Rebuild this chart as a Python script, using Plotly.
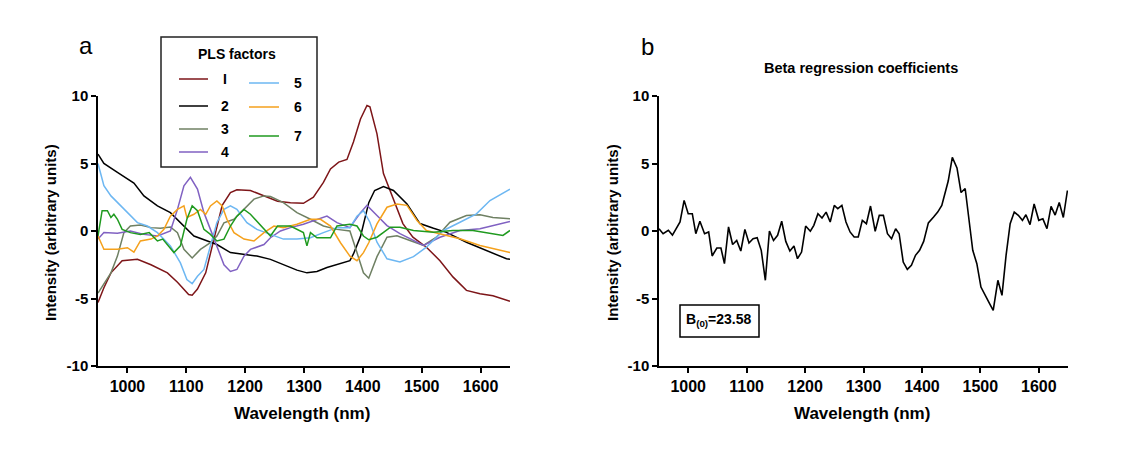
import plotly.graph_objects as go

# page body has an 8px margin, so the figure is drawn 8px in from the top-left corner
OFF = 8
W, H = 1131 - OFF, 459 - OFF

# ---------------- data: PLS factors (panel a) ----------------
wl_f1 = [950, 960, 972, 991, 1017, 1040, 1068, 1085, 1104, 1110, 1119, 1133, 1147, 1161, 1175, 1186, 1209, 1232, 1255, 1277, 1299, 1316, 1333, 1345, 1359, 1373, 1384, 1396, 1407, 1412, 1424, 1435, 1444, 1455, 1468, 1485, 1508, 1531, 1553, 1576, 1599, 1621, 1644, 1650]
f1 = [-5.3, -4.2, -3.1, -2.2, -2.1, -2.5, -3.1, -3.8, -4.7, -4.75, -4.3, -3.1, -0.6, 1.9, 2.85, 3.05, 3.0, 2.6, 2.2, 2.1, 2.05, 2.5, 3.6, 4.6, 5.1, 5.3, 6.6, 8.3, 9.3, 9.2, 7.2, 4.25, 3.25, 2.0, 0.55, -0.46, -1.2, -2.2, -3.4, -4.4, -4.65, -4.8, -5.15, -5.2]

wl_f2 = [950, 960, 983, 1005, 1011, 1028, 1051, 1073, 1096, 1113, 1136, 1152, 1175, 1198, 1220, 1243, 1265, 1288, 1305, 1322, 1339, 1356, 1378, 1384, 1396, 1410, 1420, 1435, 1452, 1475, 1497, 1520, 1542, 1576, 1610, 1644, 1650]
f2 = [5.7, 5.0, 4.35, 3.7, 3.55, 2.6, 1.86, 1.36, 0.37, -0.37, -0.74, -1.0, -1.6, -1.74, -1.86, -2.1, -2.5, -2.9, -3.1, -3.0, -2.7, -2.5, -2.2, -1.7, -0.4, 2.1, 3.0, 3.3, 3.0, 2.0, 0.55, 0.2, -0.1, -0.83, -1.45, -2.06, -2.1]

wl_f3 = [950, 972, 983, 994, 1005, 1022, 1040, 1056, 1073, 1085, 1096, 1110, 1124, 1141, 1152, 1164, 1181, 1198, 1215, 1232, 1243, 1265, 1288, 1311, 1333, 1356, 1378, 1390, 1401, 1410, 1424, 1441, 1458, 1480, 1503, 1525, 1548, 1576, 1599, 1621, 1650]
f3 = [-4.6, -3.1, -1.86, -0.12, 0.37, 0.45, 0.25, 0.2, 0.3, -0.12, -1.36, -2.0, -1.36, -0.87, -0.37, 0.6, 0.87, 1.6, 2.36, 2.6, 2.55, 2.1, 1.36, 0.87, 0.37, 0.12, 0.0, -1.6, -3.1, -3.5, -1.9, -0.46, -0.35, -0.7, -1.07, -0.46, 0.65, 1.15, 1.2, 1.0, 0.9]

wl_f4 = [950, 960, 983, 1005, 1028, 1051, 1073, 1085, 1096, 1107, 1119, 1130, 1141, 1152, 1164, 1175, 1186, 1198, 1209, 1232, 1243, 1260, 1277, 1299, 1322, 1339, 1356, 1378, 1396, 1407, 1424, 1441, 1463, 1486, 1503, 1531, 1565, 1599, 1650]
f4 = [-0.6, -0.12, -0.17, 0.0, -0.25, -0.37, 0.0, 1.6, 3.35, 3.97, 3.1, 1.36, 0.12, -1.1, -2.5, -3.0, -2.85, -1.86, -1.36, -1.0, -0.5, 0.0, 0.25, 0.5, 0.87, 1.1, 0.62, 0.25, 1.36, 1.9, 1.15, 0.4, -0.2, -0.7, -1.07, -0.46, 0.04, 0.16, 0.7]

wl_f5 = [950, 960, 972, 994, 1017, 1034, 1051, 1073, 1090, 1101, 1110, 1119, 1130, 1141, 1152, 1164, 1175, 1186, 1203, 1220, 1243, 1265, 1288, 1311, 1333, 1356, 1378, 1390, 1401, 1412, 1424, 1441, 1463, 1486, 1508, 1537, 1565, 1593, 1616, 1650]
f5 = [5.0, 3.35, 2.6, 1.6, 0.62, 0.37, -0.12, -1.1, -2.36, -3.6, -3.9, -3.35, -2.85, -1.1, 0.62, 1.6, 1.86, 1.6, 0.62, 0.12, -0.25, -0.6, -0.6, -0.5, -0.12, 0.25, 0.25, 1.1, 1.5, 0.65, -0.83, -2.06, -2.3, -1.9, -1.2, 0.04, 0.65, 1.27, 2.26, 3.1]

wl_f6 = [950, 960, 983, 1000, 1011, 1022, 1040, 1051, 1062, 1073, 1085, 1096, 1101, 1113, 1124, 1133, 1141, 1152, 1161, 1169, 1181, 1198, 1215, 1232, 1249, 1265, 1288, 1311, 1328, 1345, 1362, 1378, 1390, 1401, 1410, 1424, 1441, 1458, 1475, 1492, 1508, 1531, 1565, 1599, 1650]
f6 = [-0.37, -1.36, -1.36, -1.24, -1.56, -0.74, -0.6, -0.37, 0.12, 1.1, 1.6, 1.86, 1.0, 1.24, 1.6, 1.24, 1.86, 2.23, 1.86, 0.87, -0.12, -0.6, -0.74, -0.12, 0.37, 0.25, 0.5, 0.87, 0.87, 0.37, -0.87, -1.86, -2.2, -1.6, -0.87, 0.53, 1.76, 2.0, 1.9, 0.78, 0.04, -0.2, -0.58, -1.07, -1.6]

wl_f7 = [950, 957, 966, 972, 977, 983, 991, 1005, 1022, 1037, 1051, 1060, 1079, 1090, 1101, 1110, 1119, 1130, 1141, 1152, 1164, 1175, 1186, 1198, 1209, 1220, 1232, 1243, 1255, 1277, 1299, 1305, 1311, 1322, 1345, 1356, 1378, 1390, 1401, 1410, 1424, 1447, 1463, 1486, 1520, 1553, 1587, 1621, 1638, 1650]
f7 = [-0.37, 1.5, 1.5, 1.0, 1.24, 0.87, 0.12, -0.12, -0.25, -0.12, -0.74, -0.6, -1.6, -1.1, 0.87, 1.86, 1.5, 0.12, -0.25, -0.74, -0.6, 0.37, 1.1, 1.6, 1.24, 0.74, 0.12, -0.37, 0.37, 0.37, -0.12, -1.1, -0.12, -0.5, -0.5, 0.37, 0.5, 0.37, -0.37, -0.65, -0.46, 0.28, 0.28, 0.04, -0.1, 0.04, 0.04, -0.2, -0.33, 0.04]

factor_labels = ["I", "2", "3", "4", "5", "6", "7"]
factor_colors = ["#7d1518", "#000000", "#6f8063", "#8061c2", "#6db7f2", "#f5a11c", "#1f9a1f"]

# ---------------- data: beta coefficients (panel b) ----------------
wl_beta = [950, 957, 966, 973, 986, 993, 1000, 1007, 1013, 1020, 1028, 1035, 1041, 1049, 1056, 1062, 1069, 1076, 1083, 1090, 1097, 1104, 1111, 1118, 1125, 1132, 1139, 1146, 1153, 1160, 1167, 1174, 1181, 1187, 1194, 1201, 1209, 1215, 1222, 1229, 1236, 1243, 1250, 1256, 1263, 1270, 1277, 1284, 1291, 1298, 1305, 1312, 1320, 1327, 1334, 1341, 1348, 1355, 1361, 1368, 1375, 1382, 1389, 1396, 1403, 1411, 1420, 1427, 1434, 1445, 1452, 1460, 1467, 1474, 1487, 1494, 1501, 1508, 1516, 1522, 1530, 1537, 1544, 1551, 1558, 1565, 1572, 1578, 1585, 1592, 1600, 1607, 1614, 1621, 1628, 1635, 1642, 1649]
beta = [0.17, -0.2, 0.05, -0.3, 0.67, 2.27, 1.28, 1.28, -0.2, 0.72, -0.2, -0.07, -1.85, -1.26, -1.26, -2.42, 0.3, -1.0, -0.7, -1.48, 0.12, -0.89, -0.57, -0.5, -1.43, -3.65, 0.0, -0.7, -0.32, 0.72, -0.77, -1.48, -1.11, -2.05, -1.56, 0.37, -0.02, 0.42, 1.28, 0.96, 1.4, 0.67, 1.9, 1.65, 1.9, 0.67, -0.07, -0.44, -0.44, 0.79, 0.54, 1.85, -0.02, 1.16, 1.16, -0.2, -0.57, 0.17, -0.2, -2.3, -2.84, -2.54, -1.8, -1.43, -0.77, 0.6, 1.04, 1.4, 1.9, 3.7, 5.45, 4.67, 2.85, 3.15, -1.43, -2.42, -4.15, -4.77, -5.4, -5.88, -3.65, -4.77, -1.8, 0.54, 1.4, 1.16, 0.79, 1.2, 0.47, 2.0, 0.79, 0.9, 0.17, 1.83, 1.18, 2.12, 1.0, 3.0]

x_ticks = [1000, 1100, 1200, 1300, 1400, 1500, 1600]
x_ticktext = ["1000", "1100", "1200", "1300", "1400", "1500", "1600"]
y_ticks = [-10, -5, 0, 5, 10]
y_ticktext = ["-10", "-5", "0", "5", "10"]
x_range = [950, 1650]
y_range = [-10, 10]
b0_text = "B<sub>(0)</sub>=23.58"

# ---------------- figure ----------------
FONT = "Liberation Sans, Arial, sans-serif"

def px(x):
    return (x - OFF) / W

def py(y):
    return 1 - (y - OFF) / H

fig = go.Figure()

series = [(wl_f1, f1), (wl_f2, f2), (wl_f3, f3), (wl_f4, f4), (wl_f5, f5), (wl_f6, f6), (wl_f7, f7)]
for (xs, ys), name, col in zip(series, factor_labels, factor_colors):
    fig.add_trace(go.Scatter(x=xs, y=ys, mode="lines", name=name,
                             line=dict(color=col, width=1.5), xaxis="x", yaxis="y"))

fig.add_trace(go.Scatter(x=wl_beta, y=beta, mode="lines", name="beta",
                         line=dict(color="#000000", width=1.6), xaxis="x2", yaxis="y2"))

axis_common = dict(showline=True, linecolor="#000000", linewidth=1.5, ticks="outside",
                   ticklen=5, tickwidth=1.5, tickcolor="#000000", showgrid=False,
                   zeroline=False, automargin=False)
xfont = dict(family=FONT, size=16, color="#000000", weight="bold")
yfont = dict(family=FONT, size=15, color="#000000", weight="bold")

fig.update_layout(
    width=W, height=H, margin=dict(l=0, r=0, t=0, b=0),
    paper_bgcolor="white", plot_bgcolor="white", showlegend=False,
    xaxis=dict(domain=[px(98), px(510)], range=x_range, tickvals=x_ticks, ticktext=x_ticktext,
               anchor="y", tickfont=xfont, **axis_common),
    yaxis=dict(domain=[py(366), py(96)], range=y_range, tickvals=y_ticks, ticktext=y_ticktext,
               anchor="x", tickfont=yfont, **axis_common),
    xaxis2=dict(domain=[px(659), px(1068)], range=x_range, tickvals=x_ticks, ticktext=x_ticktext,
                anchor="y2", tickfont=xfont, **axis_common),
    yaxis2=dict(domain=[py(366), py(96)], range=y_range, tickvals=y_ticks, ticktext=y_ticktext,
                anchor="x2", tickfont=yfont, **axis_common),
)

def txt(x, y, s, size, bold=True, angle=0, xanchor="center"):
    fig.add_annotation(x=px(x), y=py(y), xref="paper", yref="paper", text=s, showarrow=False,
                       xanchor=xanchor, yanchor="middle", textangle=angle,
                       font=dict(family=FONT, size=size, color="#000000",
                                 weight="bold" if bold else "normal"))

# axis titles
txt(50, 233, "Intensity (arbitrary units)", 15, angle=-90)
txt(612, 233, "Intensity (arbitrary units)", 15, angle=-90)
txt(302, 413, "Wavelength (nm)", 17)
txt(862, 413, "Wavelength (nm)", 17)
# panel labels and title
txt(86, 46, "a", 24, bold=False)
txt(647, 47, "b", 24, bold=False)
txt(861, 68, "Beta regression coefficients", 14.5)

# legend box (manual, two columns)
fig.add_shape(type="rect", xref="paper", yref="paper", x0=px(161), x1=px(317), y0=py(167), y1=py(37),
              line=dict(color="#222222", width=1.5), fillcolor="white", layer="above")
txt(237, 54, "PLS factors", 14)
legend_pos = [(179, 208, 225, 79), (179, 208, 225, 106), (179, 208, 225, 129), (179, 208, 225, 152),
              (249, 279, 298, 83), (249, 279, 298, 107), (249, 279, 298, 136)]
for (x0, x1, xl, yy), name, col in zip(legend_pos, factor_labels, factor_colors):
    fig.add_shape(type="line", xref="paper", yref="paper", x0=px(x0), x1=px(x1), y0=py(yy), y1=py(yy),
                  line=dict(color=col, width=1.5), layer="above")
    txt(xl, yy, name, 14)

# B(0) box
fig.add_shape(type="rect", xref="paper", yref="paper", x0=px(680), x1=px(759), y0=py(337), y1=py(305),
              line=dict(color="#000000", width=1.5), fillcolor="white", layer="above")
txt(719, 320, b0_text, 14)

fig.write_html("out.html")
